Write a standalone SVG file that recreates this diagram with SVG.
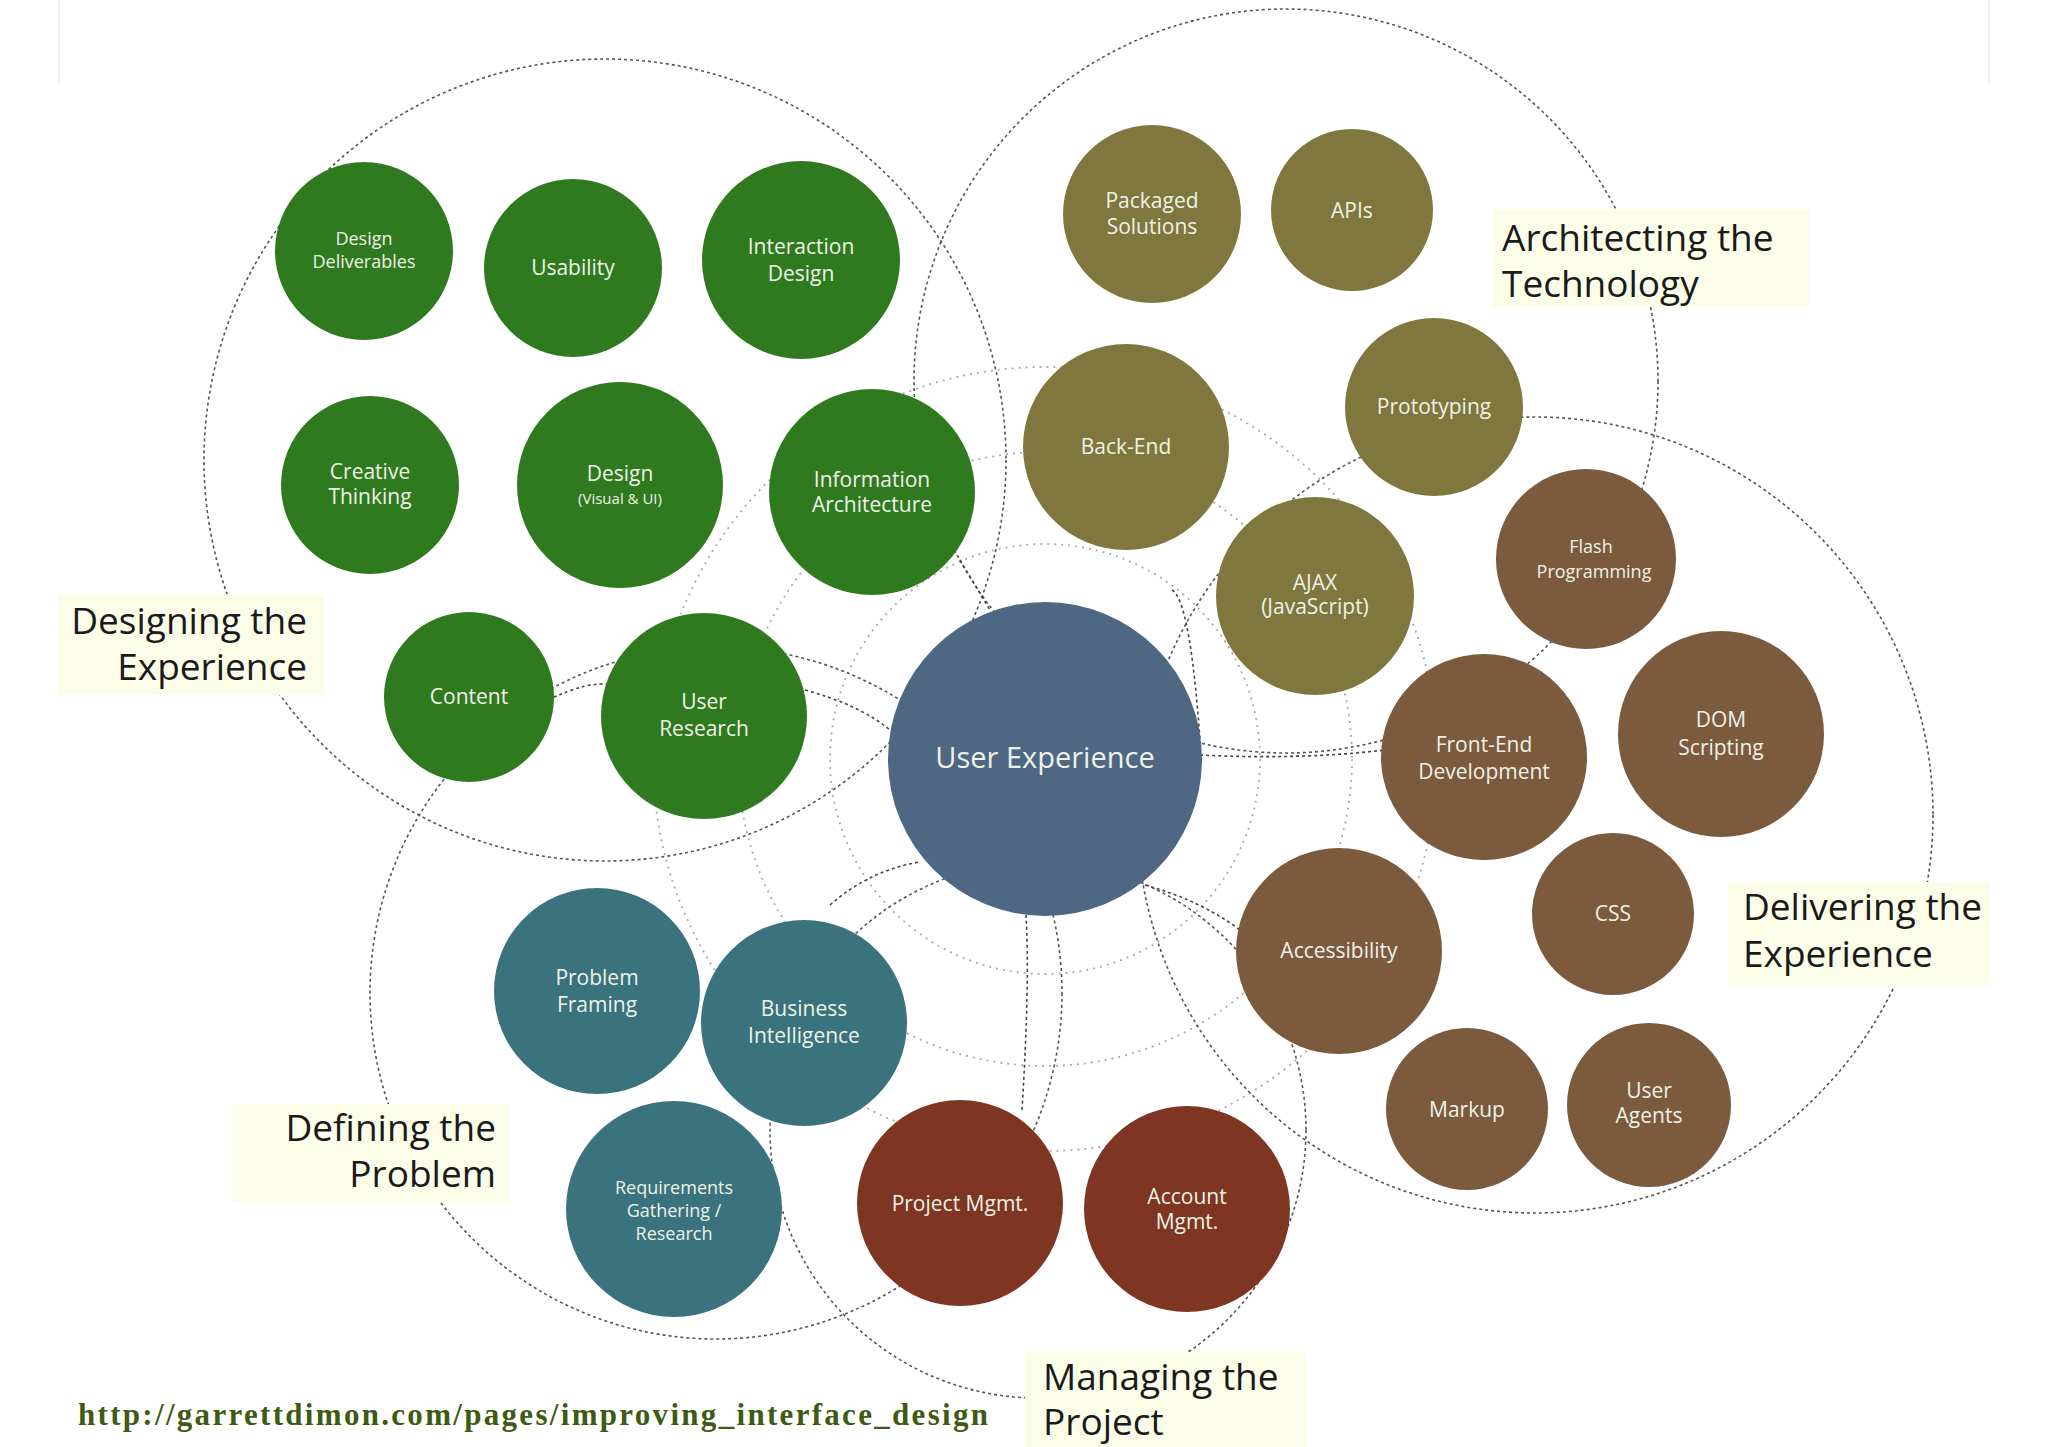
<svg xmlns="http://www.w3.org/2000/svg" width="2048" height="1447" viewBox="0 0 2048 1447">
<style>
.bg{fill:#fff}
.ring{fill:none;stroke:#555;stroke-width:1.6;stroke-dasharray:3 3}
.ring2{fill:none;stroke:#aaa;stroke-width:1.8;stroke-dasharray:2 5}
.con{fill:none;stroke:#444;stroke-width:1.6;stroke-dasharray:3 3}
.g{fill:#2f7a1f}.o{fill:#7f773d}.b{fill:#7b5a3d}.t{fill:#3a727d}.r{fill:#7e3522}.ux{fill:#4e6783}
.n{font-family:"Open Sans","DejaVu Sans",sans-serif;font-size:21px;fill:#eef2e6;text-anchor:middle}
.s{font-size:18px}
.lb{fill:#fbfde9}
.lt{font-family:"Open Sans","DejaVu Sans",sans-serif;font-size:37px;fill:#1a1a1a}
</style>
<rect class="bg" width="2048" height="1447"/>
<line x1="59" y1="0" x2="59" y2="85" stroke="#e6e6e6"/>
<line x1="1989" y1="0" x2="1989" y2="85" stroke="#e6e6e6"/>
<g id="connectors">
<circle class="ring2" cx="1045" cy="759" r="215"/>
<circle class="ring2" cx="1045" cy="759" r="307"/>
<circle class="ring2" cx="1045" cy="759" r="392"/>
<circle class="ring" cx="605" cy="460" r="401"/>
<circle class="ring" cx="1286" cy="381" r="372"/>
<circle class="ring" cx="1535" cy="815" r="398"/>
<circle class="ring" cx="716" cy="993" r="346"/>
<circle class="ring" cx="1038" cy="1130" r="268"/>
<path class="con" d="M960 560 L990 610"/>
<path class="con" d="M805 690 Q860 705 890 730"/>
<path class="con" d="M1172 590 Q1190 600 1200 740"/>
<path class="con" d="M1200 755 Q1300 760 1385 750"/>
<path class="con" d="M1145 885 Q1200 900 1240 930"/>
<path class="con" d="M830 905 Q870 870 920 862"/>
<path class="con" d="M1026 915 Q1030 980 1022 1110"/>
<path class="con" d="M548 700 Q590 680 610 685"/>
</g>
<g id="designing-label"><rect class="lb" x="59" y="594" width="265" height="101"/><text class="lt" text-anchor="end" x="307" y="634">Designing the</text><text class="lt" text-anchor="end" x="307" y="680">Experience</text></g>
<g id="architecting-label"><rect class="lb" x="1493" y="209" width="316" height="98"/><text class="lt" x="1502" y="251">Architecting the</text><text class="lt" x="1502" y="297">Technology</text></g>
<g id="delivering-label"><rect class="lb" x="1728" y="882" width="261" height="104"/><text class="lt" x="1743" y="920">Delivering the</text><text class="lt" x="1743" y="967">Experience</text></g>
<g id="defining-label"><rect class="lb" x="232" y="1104" width="277" height="98"/><text class="lt" text-anchor="end" x="496" y="1141">Defining the</text><text class="lt" text-anchor="end" x="496" y="1187">Problem</text></g>
<g id="managing-label"><rect class="lb" x="1025" y="1352" width="281" height="95"/><text class="lt" x="1043" y="1390">Managing the</text><text class="lt" x="1043" y="1435">Project</text></g>
<g id="ux"><circle class="ux" cx="1045" cy="759" r="157"/><text class="n" style="font-size:29px" x="1045" y="768">User Experience</text></g>
<g id="design-deliverables"><circle class="g" cx="364" cy="251" r="89"/><text class="n s" x="364" y="245">Design</text><text class="n s" x="364" y="268">Deliverables</text></g>
<g id="usability"><circle class="g" cx="573" cy="268" r="89"/><text class="n" x="573" y="275">Usability</text></g>
<g id="interaction-design"><circle class="g" cx="801" cy="260" r="99"/><text class="n" x="801" y="254">Interaction</text><text class="n" x="801" y="281">Design</text></g>
<g id="creative-thinking"><circle class="g" cx="370" cy="485" r="89"/><text class="n" x="370" y="479">Creative</text><text class="n" x="370" y="504">Thinking</text></g>
<g id="design-visual"><circle class="g" cx="620" cy="485" r="103"/><text class="n" x="620" y="481">Design</text><text class="n" style="font-size:15px" x="620" y="504">(Visual &amp; UI)</text></g>
<g id="information-architecture"><circle class="g" cx="872" cy="492" r="103"/><text class="n" x="872" y="487">Information</text><text class="n" x="872" y="512">Architecture</text></g>
<g id="content"><circle class="g" cx="469" cy="697" r="85"/><text class="n" x="469" y="704">Content</text></g>
<g id="user-research"><circle class="g" cx="704" cy="716" r="103"/><text class="n" x="704" y="709">User</text><text class="n" x="704" y="736">Research</text></g>
<g id="packaged-solutions"><circle class="o" cx="1152" cy="214" r="89"/><text class="n" x="1152" y="208">Packaged</text><text class="n" x="1152" y="234">Solutions</text></g>
<g id="apis"><circle class="o" cx="1352" cy="210" r="81"/><text class="n" x="1352" y="218">APIs</text></g>
<g id="back-end"><circle class="o" cx="1126" cy="447" r="103"/><text class="n" x="1126" y="454">Back-End</text></g>
<g id="prototyping"><circle class="o" cx="1434" cy="407" r="89"/><text class="n" x="1434" y="414">Prototyping</text></g>
<g id="ajax"><circle class="o" cx="1315" cy="596" r="99"/><text class="n" x="1315" y="590">AJAX</text><text class="n" x="1315" y="614">(JavaScript)</text></g>
<g id="flash"><circle class="b" cx="1586" cy="559" r="90"/><text class="n s" x="1591" y="553">Flash</text><text class="n s" x="1594" y="578">Programming</text></g>
<g id="front-end"><circle class="b" cx="1484" cy="757" r="103"/><text class="n" x="1484" y="752">Front-End</text><text class="n" x="1484" y="779">Development</text></g>
<g id="dom"><circle class="b" cx="1721" cy="734" r="103"/><text class="n" x="1721" y="727">DOM</text><text class="n" x="1721" y="755">Scripting</text></g>
<g id="css"><circle class="b" cx="1613" cy="914" r="81"/><text class="n" x="1613" y="921">CSS</text></g>
<g id="accessibility"><circle class="b" cx="1339" cy="951" r="103"/><text class="n" x="1339" y="958">Accessibility</text></g>
<g id="markup"><circle class="b" cx="1467" cy="1109" r="81"/><text class="n" x="1467" y="1117">Markup</text></g>
<g id="user-agents"><circle class="b" cx="1649" cy="1105" r="82"/><text class="n" x="1649" y="1098">User</text><text class="n" x="1649" y="1123">Agents</text></g>
<g id="problem-framing"><circle class="t" cx="597" cy="991" r="103"/><text class="n" x="597" y="985">Problem</text><text class="n" x="597" y="1012">Framing</text></g>
<g id="business-intelligence"><circle class="t" cx="804" cy="1023" r="103"/><text class="n" x="804" y="1016">Business</text><text class="n" x="804" y="1043">Intelligence</text></g>
<g id="requirements"><circle class="t" cx="674" cy="1209" r="108"/><text class="n s" x="674" y="1194">Requirements</text><text class="n s" x="674" y="1217">Gathering /</text><text class="n s" x="674" y="1240">Research</text></g>
<g id="project-mgmt"><circle class="r" cx="960" cy="1203" r="103"/><text class="n" x="960" y="1211">Project Mgmt.</text></g>
<g id="account-mgmt"><circle class="r" cx="1187" cy="1209" r="103"/><text class="n" x="1187" y="1204">Account</text><text class="n" x="1187" y="1229">Mgmt.</text></g>
<text x="78" y="1425" font-family="'Liberation Serif',serif" font-weight="bold" font-size="31" fill="#3f5a12" textLength="910" lengthAdjust="spacing">http://garrettdimon.com/pages/improving_interface_design</text>
</svg>
